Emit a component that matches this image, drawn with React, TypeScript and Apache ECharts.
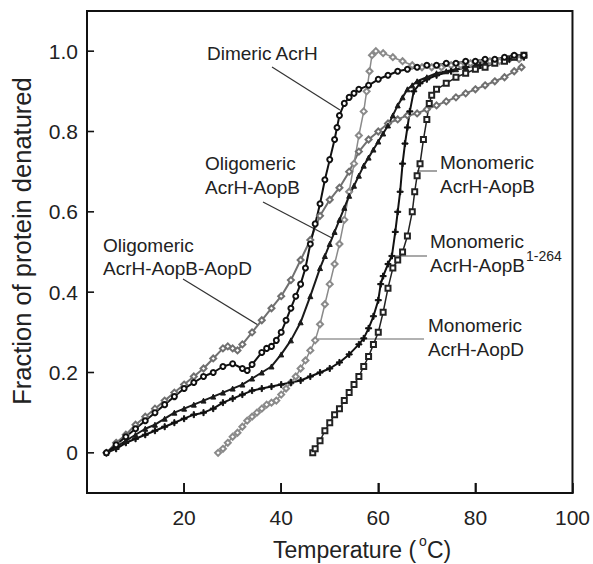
import React, { useEffect, useRef } from 'react';
import * as echarts from 'echarts';

const xTicks = [20, 40, 60, 80];
const yTicks = [0, 0.2, 0.4, 0.6, 0.8, 1.0];
const X_MIN = 0, X_MAX = 100, Y_MIN = -0.1, Y_MAX = 1.1;

const dimericAcrH = [
  [4, 0.0], [6, 0.02], [8, 0.04], [10, 0.06], [12, 0.08], [14, 0.1], [16, 0.12], [18, 0.14], [20, 0.16],
  [22, 0.175], [24, 0.19], [26, 0.2], [28, 0.215], [30, 0.222], [32, 0.21], [33, 0.205], [34, 0.22],
  [36, 0.25], [37, 0.26], [38, 0.265], [39, 0.28], [40, 0.3], [41, 0.33], [42, 0.36], [43, 0.39],
  [44, 0.42], [45, 0.46], [46, 0.52], [47, 0.57], [48, 0.62], [49, 0.68], [50, 0.73], [51, 0.78],
  [51.5, 0.81], [52, 0.84], [53, 0.87], [54, 0.885], [55, 0.895], [56, 0.905], [58, 0.915], [60, 0.93],
  [62, 0.94], [64, 0.95], [66, 0.955], [68, 0.96], [70, 0.965], [72, 0.965], [74, 0.97], [76, 0.97],
  [78, 0.975], [80, 0.975], [82, 0.98], [84, 0.98], [86, 0.985], [88, 0.99], [90, 0.99]
];

const oligoAopB = [
  [4, 0.0], [6, 0.015], [8, 0.03], [10, 0.045], [12, 0.06], [14, 0.07], [16, 0.085], [18, 0.1], [20, 0.11],
  [22, 0.12], [24, 0.13], [26, 0.14], [28, 0.15], [30, 0.16], [32, 0.17], [34, 0.185], [36, 0.2],
  [38, 0.215], [40, 0.245], [42, 0.28], [44, 0.325], [46, 0.39], [48, 0.46], [49, 0.49], [50, 0.52],
  [51, 0.55], [52, 0.58], [53, 0.61], [54, 0.64], [55, 0.665], [56, 0.69], [57, 0.715], [58, 0.735],
  [59, 0.755], [60, 0.775], [61, 0.795], [62, 0.815], [63, 0.84], [64, 0.865], [65, 0.885], [66, 0.905],
  [67, 0.915], [68, 0.925], [70, 0.935], [72, 0.945], [74, 0.95], [76, 0.955], [78, 0.96], [80, 0.965],
  [82, 0.97], [84, 0.975], [86, 0.98], [88, 0.985], [90, 0.99]
];

const oligoAopBAopD = [
  [4, 0.0], [6, 0.025], [8, 0.045], [10, 0.07], [12, 0.09], [14, 0.11], [16, 0.13], [18, 0.15], [20, 0.17],
  [22, 0.19], [24, 0.21], [26, 0.235], [28, 0.26], [29, 0.265], [30, 0.26], [31, 0.255], [32, 0.27],
  [34, 0.3], [36, 0.33], [38, 0.36], [40, 0.39], [42, 0.43], [44, 0.48], [46, 0.53], [48, 0.59],
  [50, 0.63], [52, 0.66], [54, 0.7], [56, 0.75], [58, 0.78], [60, 0.8], [62, 0.82], [64, 0.83],
  [66, 0.84], [68, 0.845], [70, 0.855], [72, 0.865], [74, 0.875], [76, 0.885], [78, 0.895], [80, 0.905],
  [82, 0.915], [84, 0.925], [86, 0.935], [88, 0.95], [89.5, 0.96]
];

const monoAopB1264 = [
  [4, 0.0], [6, 0.01], [8, 0.025], [10, 0.035], [12, 0.045], [14, 0.055], [16, 0.065], [18, 0.075],
  [20, 0.085], [22, 0.095], [24, 0.1], [26, 0.11], [28, 0.125], [30, 0.135], [32, 0.145], [34, 0.155],
  [36, 0.16], [38, 0.165], [40, 0.17], [42, 0.175], [44, 0.18], [46, 0.19], [48, 0.2], [50, 0.21],
  [52, 0.225], [54, 0.245], [56, 0.27], [57, 0.285], [58, 0.31], [59, 0.34], [60, 0.38], [60.5, 0.42],
  [61, 0.44], [62, 0.47], [62.8, 0.49], [63.5, 0.55], [64, 0.6], [64.5, 0.65], [65, 0.72], [65.5, 0.77],
  [66, 0.81], [66.5, 0.85], [67.3, 0.9], [68.6, 0.92], [70, 0.93], [72, 0.94], [75, 0.95], [78, 0.96],
  [81, 0.965], [84, 0.975], [87, 0.98], [90, 0.985]
];

const monoAopD = [
  [27, 0.0], [28, 0.01], [29, 0.025], [30, 0.04], [31, 0.05], [32, 0.065], [33, 0.08], [34, 0.09],
  [35, 0.1], [36, 0.11], [37, 0.12], [38, 0.125], [39, 0.13], [40, 0.145], [41, 0.16], [42, 0.175],
  [43, 0.19], [44, 0.21], [45, 0.23], [46, 0.255], [47, 0.28], [48, 0.32], [49, 0.37], [50, 0.42],
  [51, 0.47], [52, 0.52], [53, 0.58], [54, 0.65], [55, 0.72], [56, 0.79], [57, 0.85], [57.6, 0.9],
  [58.2, 0.95], [58.7, 0.99], [59.5, 1.0], [61, 0.995], [63, 0.985], [65, 0.975], [67, 0.965],
  [69, 0.96], [71, 0.96], [73, 0.96], [75, 0.965], [77, 0.965], [79, 0.97], [81, 0.97], [83, 0.975],
  [85, 0.975], [87, 0.98], [89, 0.98]
];

const monoAopB = [
  [46.5, 0.0], [47, 0.01], [48, 0.03], [49, 0.055], [50, 0.075], [51, 0.095], [52, 0.11], [53, 0.13],
  [54, 0.15], [55, 0.17], [56, 0.19], [57, 0.215], [58, 0.24], [59, 0.27], [60, 0.3], [61, 0.35],
  [62, 0.41], [63, 0.46], [64, 0.48], [65, 0.5], [66, 0.54], [67, 0.6], [67.5, 0.65], [68, 0.69],
  [68.6, 0.72], [69.3, 0.78], [70, 0.83], [70.5, 0.87], [71, 0.89], [72, 0.905], [74, 0.92],
  [76, 0.935], [78, 0.945], [80, 0.955], [82, 0.96], [84, 0.97], [86, 0.975], [88, 0.985], [90, 0.99]
];

const PLUS = 'path://M2,0H3V2H5V3H3V5H2V3H0V2H2Z';
const FONT = 'Liberation Sans, Arial, Helvetica, sans-serif';
const TXT = '#222';

function mk(name: string, data: number[][], symbol: string, color: string, size: number, lw: number) {
  return {
    name,
    type: 'line',
    data,
    symbol,
    symbolSize: size,
    showSymbol: true,
    showAllSymbol: true,
    lineStyle: { color, width: lw },
    itemStyle: { color, borderColor: color, borderWidth: 1 },
    emphasis: { disabled: true },
    z: 3,
  };
}

function txt(x: number, y: number, text: string, size = 19, align = 'left') {
  return {
    type: 'text',
    x,
    y,
    style: { text, fill: TXT, font: `${size}px ${FONT}`, textAlign: align, textVerticalAlign: 'middle' },
  };
}

function seg(x1: number, y1: number, x2: number, y2: number, color = '#333') {
  return { type: 'line', shape: { x1, y1, x2, y2 }, style: { stroke: color, lineWidth: 1.2 } };
}

// inward tick marks as tiny line series in data space (x ticks ~10px tall, y ticks ~7px long)
const X_TICK_LEN = 0.025;
const Y_TICK_LEN = 1.45;
const tickSeries = [
  ...xTicks.map((v) => [[v, Y_MIN], [v, Y_MIN + X_TICK_LEN]]),
  ...yTicks.map((v) => [[X_MIN, v], [X_MIN + Y_TICK_LEN, v]]),
].map((d, i) => ({
  name: 'tick' + i,
  type: 'line',
  data: d,
  symbol: 'none',
  clip: false,
  silent: true,
  lineStyle: { color: '#111', width: 1.6 },
  emphasis: { disabled: true },
  z: 6,
}));

export default function App() {
  const ref = useRef<HTMLDivElement>(null);
  useEffect(() => {
    const chart = echarts.init(ref.current!, null, { renderer: 'svg' });
    chart.setOption({
      animation: false,
      backgroundColor: '#fff',
      grid: { left: 87, right: 20, top: 11, bottom: 71, show: true, borderColor: '#111', borderWidth: 2 },
      xAxis: {
        type: 'value',
        min: X_MIN,
        max: X_MAX,
        interval: 20,
        axisLine: { show: true, onZero: false, lineStyle: { color: '#111', width: 2 } },
        splitLine: { show: false },
        axisTick: { show: true, inside: true, length: 10, lineStyle: { color: '#111', width: 1.6 } },
        axisLabel: {
          formatter: (v: number) => (v === 0 ? '' : String(v)),
          fontSize: 21,
          fontFamily: FONT,
          color: TXT,
          margin: 14,
        },
      },
      yAxis: {
        type: 'value',
        min: Y_MIN,
        max: Y_MAX,
        interval: 0.1,
        axisLine: { show: false, onZero: false },
        splitLine: { show: false },
        axisTick: { show: false },
        axisLabel: {
          customValues: yTicks,
          formatter: (v: number) => (Math.abs(v) < 1e-9 ? '0' : v.toFixed(1)),
          fontSize: 21,
          fontFamily: FONT,
          color: TXT,
          margin: 9,
        },
      },
      series: [
        ...tickSeries,
        mk('Oligomeric AcrH-AopB-AopD', oligoAopBAopD, 'emptyDiamond', '#707070', 6, 2),
        mk('Monomeric AcrH-AopD', monoAopD, 'emptyDiamond', '#8a8a8a', 6, 1.5),
        mk('Monomeric AcrH-AopB1-264', monoAopB1264, PLUS, '#111', 6, 2),
        mk('Oligomeric AcrH-AopB', oligoAopB, 'triangle', '#1a1a1a', 5, 2),
        mk('Monomeric AcrH-AopB', monoAopB, 'emptyRect', '#222', 5, 1.5),
        mk('Dimeric AcrH', dimericAcrH, 'emptyCircle', '#111', 5, 2),
      ],
      graphic: [
        txt(207, 53, 'Dimeric AcrH'),
        seg(272, 67, 340, 110),
        txt(205, 163, 'Oligomeric'),
        txt(205, 187, 'AcrH-AopB'),
        seg(263, 202, 332, 238),
        txt(103, 245, 'Oligomeric'),
        txt(103, 268, 'AcrH-AopB-AopD'),
        seg(183, 279, 258, 325),
        txt(440, 162, 'Monomeric'),
        txt(440, 186, 'AcrH-AopB'),
        seg(417, 171, 437, 171, '#666'),
        txt(430, 241, 'Monomeric'),
        txt(430, 265, 'AcrH-AopB'),
        txt(526, 256, '1-264', 14),
        seg(392, 256, 427, 256, '#555'),
        txt(428, 325, 'Monomeric'),
        txt(428, 349, 'AcrH-AopD'),
        seg(318, 339, 424, 339, '#666'),
        txt(273, 550, 'Temperature (', 23),
        txt(419, 541, 'o', 14),
        txt(427, 550, 'C)', 23),
        {
          type: 'text',
          x: 22,
          y: 241,
          rotation: Math.PI / 2,
          style: {
            text: 'Fraction of protein denatured',
            fill: TXT,
            font: `25.5px ${FONT}`,
            textAlign: 'center',
            textVerticalAlign: 'middle',
          },
        },
      ],
    });
    return () => chart.dispose();
  }, []);
  return (
    <div
      ref={ref}
      style={{ position: 'fixed', left: 0, top: 0, width: 593, height: 564, background: '#fff' }}
    />
  );
}
